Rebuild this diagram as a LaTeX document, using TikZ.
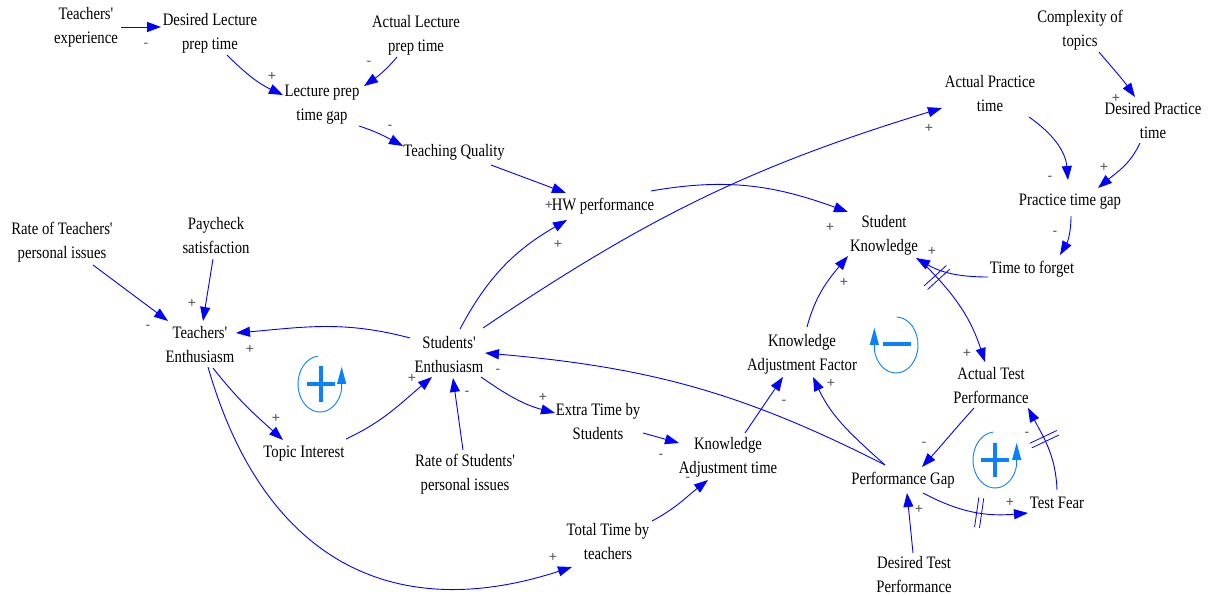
\documentclass[tikz,border=0pt]{standalone}
\usepackage{fontspec}
\setmainfont{Liberation Serif}[FakeStretch=0.84,Ligatures=TeXOff]
\newfontfamily\signfont{Liberation Sans}
\usetikzlibrary{arrows.meta,decorations.markings}
\definecolor{lnk}{RGB}{0,0,255}
\definecolor{loopc}{RGB}{10,130,255}
\definecolor{signc}{RGB}{80,80,80}
\tikzset{
  var/.style={font=\fontsize{17.5}{24}\selectfont, align=center, inner sep=0pt},
  lk/.style={draw=lnk, line width=0.9pt, -{Triangle[length=14pt,width=10pt]}},
  sg/.style={font=\signfont\fontsize{14}{14}\selectfont, text=signc, inner sep=0pt},
  dly/.style={postaction={decorate, decoration={markings, mark=at position #1 with {\draw[lnk, line width=0.8pt, -] (-2.5,-15) -- (-2.5,15) (2.5,-15) -- (2.5,15);}}}},
  lp/.style={draw=loopc, line width=0.9pt, -{Triangle[length=17pt,width=9pt]}, fill=none},
  lpsym/.style={draw=loopc, line width=3.5pt},
}
\begin{document}
\begin{tikzpicture}[x=1pt,y=-1pt]
\path[use as bounding box] (0,0) rectangle (1208,596);
% variables
\node[var] (te)  at (86,27)   {Teachers'\\experience};
\node[var] (dlp) at (210,33)  {Desired Lecture\\prep time};
\node[var] (alp) at (416,35)  {Actual Lecture\\prep time};
\node[var] (lpg) at (322,105) {Lecture prep\\time gap};
\node[var] (tq)  at (454,152) {Teaching Quality};
\node[var] (hw)  at (603,206) {HW performance};
\node[var] (apt) at (990,94)  {Actual Practice\\time};
\node[var] (cot) at (1080,30) {Complexity of\\topics};
\node[var] (dpt) at (1153,121){Desired Practice\\time};
\node[var] (ptg) at (1070,202){Practice time gap};
\node[var] (sk)  at (884,235) {Student\\Knowledge};
\node[var] (ttf) at (1032,269){Time to forget};
\node[var] (rtp) at (62,242)  {Rate of Teachers'\\personal issues};
\node[var] (ps)  at (216,236) {Paycheck\\satisfaction};
\node[var] (ten) at (200,345) {Teachers'\\Enthusiasm};
\node[var] (sen) at (449,355) {Students'\\Enthusiasm};
\node[var] (ti)  at (304,454) {Topic Interest};
\node[var] (rsp) at (465,474) {Rate of Students'\\personal issues};
\node[var] (ets) at (598,422) {Extra Time by\\Students};
\node[var] (kat) at (728,457) {Knowledge\\Adjustment time};
\node[var] (ttt) at (608,542) {Total Time by\\teachers};
\node[var] (kaf) at (802,354) {Knowledge\\Adjustment Factor};
\node[var] (atp) at (991,386) {Actual Test\\Performance};
\node[var] (pg)  at (903,480) {Performance Gap};
\node[var] (tf)  at (1057,503){Test Fear};
\node[var] (dtp) at (914,575) {Desired Test\\Performance};
% links
\draw[lk] ([shift={(35,0)}]te.center) -- ([shift={(-49,-6)}]dlp.center);
\draw[lk] ([shift={(17,22)}]dlp.center) to[out=-45,in=155] ([shift={(-39,-10)}]lpg.center);
\draw[lk] ([shift={(-19,22)}]alp.center) to[out=-130,in=35] ([shift={(42,-19)}]lpg.center);
\draw[lk] ([shift={(37,21)}]lpg.center) to[out=-18,in=152] ([shift={(-51,-6)}]tq.center);
\draw[lk] ([shift={(37,13)}]tq.center) -- ([shift={(-37,-13)}]hw.center);
\draw[lk] ([shift={(11,-26)}]sen.center) to[out=62,in=-150] ([shift={(-36,14)}]hw.center);
\draw[lk] ([shift={(48,-15)}]hw.center) to[out=10,in=160] ([shift={(-36,-23)}]sk.center);
\draw[lk] ([shift={(34,-27)}]sen.center) to[out=34,in=-163] ([shift={(-48,14)}]apt.center);
\draw[lk] ([shift={(19,22)}]cot.center) to[out=-50,in=125] ([shift={(-18,-24)}]dpt.center);
\draw[lk] ([shift={(39,23)}]apt.center) to[out=-35,in=95] ([shift={(-2,-22)}]ptg.center);
\draw[lk] ([shift={(-13,22)}]dpt.center) to[out=-115,in=40] ([shift={(28,-14)}]ptg.center);
\draw[lk] ([shift={(1,14)}]ptg.center) to[out=-90,in=60] ([shift={(28,-14)}]ttf.center);
\draw[lk] ([shift={(-44,8)}]ttf.center) to[out=180,in=-30] ([shift={(32,23)}]sk.center);
\draw[lk,dly=0.15] ([shift={(41,30)}]sk.center) to[out=-45,in=108] ([shift={(-6,-24)}]atp.center);
\draw[lk] ([shift={(5,-27)}]kaf.center) to[out=75,in=-130] ([shift={(-36,21)}]sk.center);
\draw[lk] ([shift={(17,-24)}]kat.center) -- ([shift={(-19,23)}]kaf.center);
\draw[lk] ([shift={(-18,-15)}]pg.center) to[out=138,in=-65] ([shift={(11,23)}]kaf.center);
\draw[lk] ([shift={(-18,-15)}]pg.center) to[out=153,in=-5] ([shift={(36,-2)}]sen.center);
\draw[lk] ([shift={(-17,22)}]atp.center) to[out=-132,in=48] ([shift={(19,-13)}]pg.center);
\draw[lk] ([shift={(-1,-22)}]dtp.center) -- ([shift={(4,13)}]pg.center);
\draw[lk,dly=0.55] ([shift={(20,13)}]pg.center) to[out=-28,in=-175] ([shift={(-29,10)}]tf.center);
\draw[lk,dly=0.6] ([shift={(0,-13)}]tf.center) to[out=92,in=-62] ([shift={(37,22)}]atp.center);
\draw[lk] ([shift={(31,23)}]rtp.center) -- ([shift={(-32,-24)}]ten.center);
\draw[lk] ([shift={(-3,23)}]ps.center) -- ([shift={(3,-24)}]ten.center);
\draw[lk] ([shift={(-39,-17)}]sen.center) to[out=165,in=5] ([shift={(36,-12)}]ten.center);
\draw[lk] ([shift={(13,23)}]ten.center) to[out=-52,in=138] ([shift={(-21,-14)}]ti.center);
\draw[lk] ([shift={(42,-15)}]ti.center) to[out=25,in=-140] ([shift={(-17,22)}]sen.center);
\draw[lk] ([shift={(-2,-24)}]rsp.center) -- ([shift={(4,23)}]sen.center);
\draw[lk] ([shift={(32,22)}]sen.center) to[out=-35,in=165] ([shift={(-43,-9)}]ets.center);
\draw[lk] ([shift={(45,11)}]ets.center) -- ([shift={(-49,-14)}]kat.center);
\draw[lk] ([shift={(44,-21)}]ttt.center) to[out=28,in=-142] ([shift={(-20,23)}]kat.center);
\draw[lk] ([shift={(8,22)}]ten.center) to[out=-74,in=-162,looseness=1.2] ([shift={(-36,25)}]ttt.center);
% polarity signs
\node[sg] (s1) at (146,45) {-};
\node[sg] (s2) at (272,76) {+};
\node[sg] (s3) at (369,63) {-};
\node[sg] (s4) at (390,127) {-};
\node[sg] (s5) at (549,205) {+};
\node[sg] (s6) at (558,244) {+};
\node[sg] (s7) at (830,227) {+};
\node[sg] (s8) at (929,128) {+};
\node[sg] (s9) at (1116,98) {+};
\node[sg] (s10) at (1050,178) {-};
\node[sg] (s11) at (1104,167) {+};
\node[sg] (s12) at (1055,233) {-};
\node[sg] (s13) at (932,251) {+};
\node[sg] (s14) at (967,353) {+};
\node[sg] (s15) at (844,282) {+};
\node[sg] (s16) at (784,402) {-};
\node[sg] (s17) at (831,383) {+};
\node[sg] (s18) at (498,371) {-};
\node[sg] (s19) at (924,444) {-};
\node[sg] (s20) at (919,509) {+};
\node[sg] (s21) at (1010,502) {+};
\node[sg] (s22) at (1027,434) {-};
\node[sg] (s23) at (148,327) {-};
\node[sg] (s24) at (192,303) {+};
\node[sg] (s25) at (250,349) {+};
\node[sg] (s26) at (276,418) {+};
\node[sg] (s27) at (412,378) {+};
\node[sg] (s28) at (467,393) {-};
\node[sg] (s29) at (543,397) {+};
\node[sg] (s30) at (661,456) {-};
\node[sg] (s31) at (688,479) {-};
\node[sg] (s32) at (553,557) {+};
% loop symbols
\draw[lp] (320,384) ++(-95:22 and 28) arc[start angle=-95, end angle=-350, x radius=22, y radius=28] -- ++(0,-22);
\draw[lpsym] (307,384) -- (335,384) (321,366) -- (321,402);
\draw[lp] (896,345) ++(-88:22 and 28) arc[start angle=-88, end angle=170, x radius=22, y radius=28] -- ++(0,-22);
\draw[lpsym] (883,344) -- (911,344);
\draw[lp] (995,460) ++(-95:22 and 28) arc[start angle=-95, end angle=-350, x radius=22, y radius=28] -- ++(0,-22);
\draw[lpsym] (981,460) -- (1009,460) (995,443) -- (995,477);
\end{tikzpicture}
\end{document}
